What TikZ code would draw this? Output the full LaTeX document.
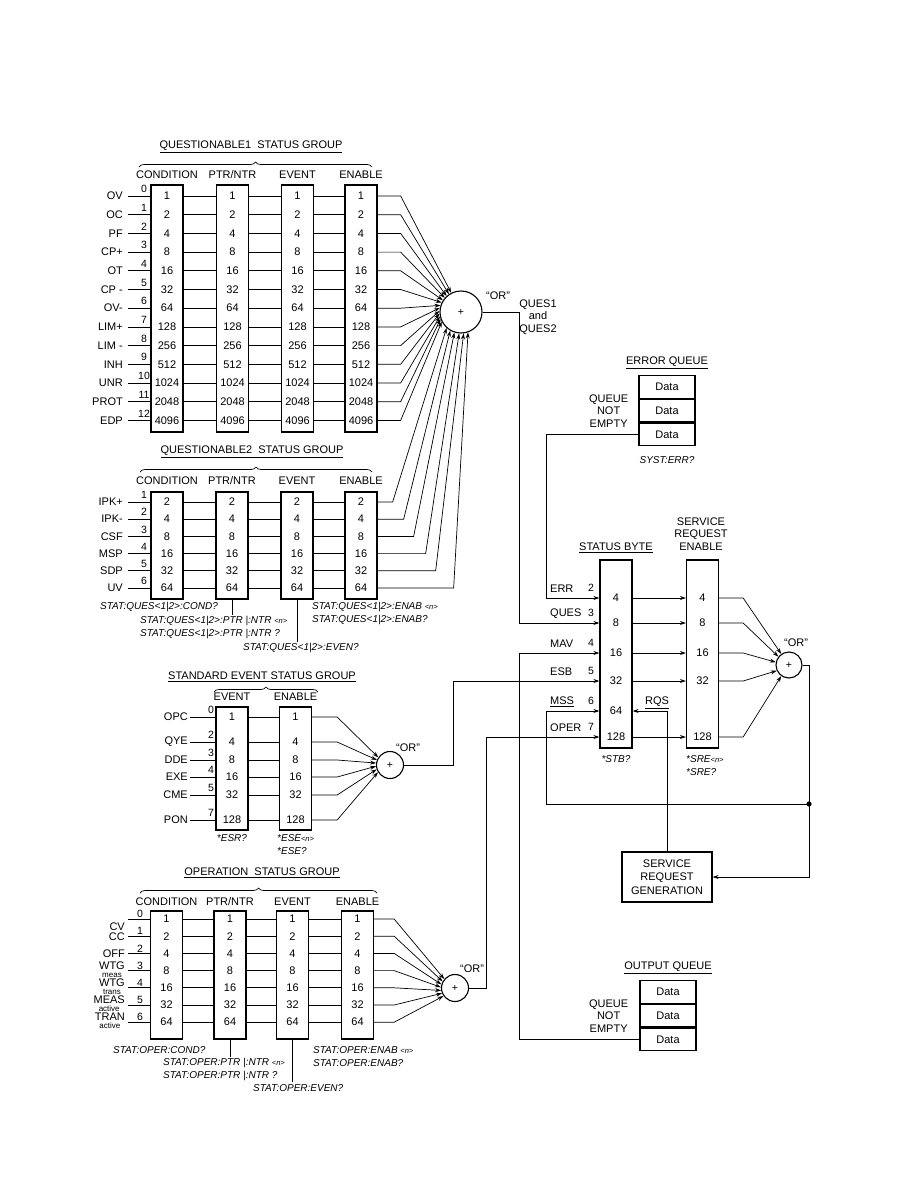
\documentclass[tikz,border=0pt]{standalone}
\usepackage{fontspec}
\setmainfont{Liberation Sans}
\usetikzlibrary{positioning,arrows.meta,decorations.pathreplacing}

% two-line input label (e.g. WTG / meas)
\newcommand{\stk}[2]{\begin{tabular}{@{}c@{}}#1\\[-4.5pt]{\fontsize{8}{8}\selectfont #2}\end{tabular}}
\newcommand{\argn}{{\fontsize{7.5}{8}\selectfont <n>}}

\tikzset{
  reg/.style={draw, line width=1.3pt, minimum width=32pt, inner sep=0pt},
  lbl/.style={font=\fontsize{11}{12.5}\selectfont, inner sep=0pt},
  bitno/.style={font=\fontsize{10.5}{12}\selectfont, inner sep=0pt},
  cmd/.style={font=\fontsize{10}{11}\selectfont\itshape, inner sep=0pt, anchor=west},
  grptitle/.style={font=\fontsize{11}{12}\selectfont, inner sep=0pt},
  orgate/.style={draw, circle, line width=1.1pt, inner sep=0pt, font=\fontsize{10.5}{12}\selectfont},
  qcell/.style={draw, line width=1.2pt, minimum width=56pt, minimum height=22.5pt,
                inner sep=0pt, font=\fontsize{11}{12}\selectfont},
  link/.style={line width=0.7pt},
  arr/.style={link, -{Stealth[length=6pt,width=4pt]}},
  grpbrace/.style={decorate, decoration={brace, amplitude=5pt}, line width=0.7pt},
}

\begin{document}
\begin{tikzpicture}[x=1pt, y=-1pt]
\useasboundingbox (0,0) rectangle (918,1188);

% ---------- QUESTIONABLE1 ----------
\node[grptitle] (q1t) at (251,147) {\underline{QUESTIONABLE1\ \ STATUS GROUP}};
\draw[grpbrace] (139,167) -- (372,167);
\node[reg, minimum height=247pt] (q1c) at (167,308.5) {};
\node[reg, minimum height=247pt] (q1p) at (232.5,308.5) {};
\node[reg, minimum height=247pt] (q1e) at (297.5,308.5) {};
\node[reg, minimum height=247pt] (q1n) at (361,308.5) {};
\foreach \b/\h in {q1c/CONDITION, q1p/{PTR/NTR}, q1e/EVENT, q1n/ENABLE}
  \node[lbl] at ([yshift=10pt]\b.north) {\h};
\node[orgate, minimum size=42pt] (q1or) at (461,312) {+};
\node[lbl] at (498,296) {``OR''};
\node[lbl, align=center] (q12) at (538,317) {QUES1\\and\\QUES2};

\foreach \lab/\v [count=\i from 0] in {OV/1, OC/2, PF/4, CP+/8, OT/16, CP -/32, OV-/64,
    LIM+/128, LIM -/256, INH/512, UNR/1024, PROT/2048, EDP/4096}{
  \pgfmathsetmacro{\y}{196+18.7*\i}
  \pgfmathsetmacro{\a}{117+7.5*\i}
  \coordinate (q1r\i) at (0,\y);
  \foreach \b in {q1c,q1p,q1e,q1n}
    \node[lbl] at (\b |- q1r\i) {\v};
  \node[lbl, anchor=east] (q1l\i) at (123,\y) {\lab};
  \node[bitno] at (144,\y-7) {\i};
  \draw[link] ([xshift=5pt]q1l\i.east) -- (q1c.west |- q1r\i);
  \draw[link] (q1c.east |- q1r\i) -- (q1p.west |- q1r\i);
  \draw[link] (q1p.east |- q1r\i) -- (q1e.west |- q1r\i);
  \draw[link] (q1e.east |- q1r\i) -- (q1n.west |- q1r\i);
  \draw[arr] (q1n.east |- q1r\i) -- ++(23,0) -- (q1or.\a);
}

% ---------- QUESTIONABLE2 ----------
\node[grptitle] (q2t) at (252,452) {\underline{QUESTIONABLE2\ \ STATUS GROUP}};
\draw[grpbrace] (140,472) -- (372,472);
\node[reg, minimum height=107pt] (q2c) at (167,545.5) {};
\node[reg, minimum height=107pt] (q2p) at (232,545.5) {};
\node[reg, minimum height=107pt] (q2e) at (297,545.5) {};
\node[reg, minimum height=107pt] (q2n) at (361,545.5) {};
\foreach \b/\h in {q2c/CONDITION, q2p/{PTR/NTR}, q2e/EVENT, q2n/ENABLE}
  \node[lbl] at ([yshift=11pt]\b.north) {\h};

\foreach \lab/\v/\dx [count=\i from 0] in {IPK+/2/15, IPK-/4/26, CSF/8/36, MSP/16/48,
    SDP/32/58, UV/64/76}{
  \pgfmathsetmacro{\y}{502+17.2*\i}
  \pgfmathsetmacro{\a}{228+12.4*\i}
  \pgfmathtruncatemacro{\bit}{\i+1}
  \coordinate (q2r\i) at (0,\y);
  \foreach \b in {q2c,q2p,q2e,q2n}
    \node[lbl] at (\b |- q2r\i) {\v};
  \node[lbl, anchor=east] (q2l\i) at (123,\y) {\lab};
  \node[bitno] at (144,\y-7) {\bit};
  \draw[link] ([xshift=5pt]q2l\i.east) -- (q2c.west |- q2r\i);
  \draw[link] (q2c.east |- q2r\i) -- (q2p.west |- q2r\i);
  \draw[link] (q2p.east |- q2r\i) -- (q2e.west |- q2r\i);
  \draw[link] (q2e.east |- q2r\i) -- (q2n.west |- q2r\i);
  \draw[arr] (q2n.east |- q2r\i) -- ++(\dx,0) -- (q1or.\a);
}
\node[cmd] (q2cc) at (100,607) {STAT:QUES<1|2>:COND?};
\coordinate (q2pe) at ([yshift=-15pt]q2p.south);
\draw[link] (q2p.south) -- (q2pe);
\node[cmd] at (140,621) {STAT:QUES<1|2>:PTR |:NTR \argn};
\node[cmd] at (140,634) {STAT:QUES<1|2>:PTR |:NTR ?};
\coordinate (q2ee) at ([yshift=-42pt]q2e.south);
\draw[link] (q2e.south) -- (q2ee);
\node[cmd] at (243,648) {STAT:QUES<1|2>:EVEN?};
\node[cmd] at (312,607) {STAT:QUES<1|2>:ENAB \argn};
\node[cmd] at (312,620) {STAT:QUES<1|2>:ENAB?};

% ---------- STANDARD EVENT ----------
\node[grptitle] (set) at (262,677) {\underline{STANDARD EVENT STATUS GROUP}};
\draw[grpbrace] (214,692) -- (318,692);
\node[reg, minimum height=123pt] (see) at (232,768.5) {};
\node[reg, minimum height=123pt] (sen) at (295.5,768.5) {};
\node[lbl] at ([yshift=10pt]see.north) {EVENT};
\node[lbl] at ([yshift=10pt]sen.north) {ENABLE};
\node[orgate, minimum size=27pt] (seor) at (390,765) {+};
\node[lbl] at (408,748) {``OR''};
\foreach \lab/\bit/\v/\y [count=\i from 0] in {OPC/0/1/717, QYE/2/4/742, DDE/3/8/760,
    EXE/4/16/777, CME/5/32/795, PON/7/128/820}{
  \pgfmathsetmacro{\a}{147+12.8*\i}
  \coordinate (ser\i) at (0,\y);
  \node[lbl] at (see |- ser\i) {\v};
  \node[lbl] at (sen |- ser\i) {\v};
  \node[lbl, anchor=east] (sel\i) at (188,\y) {\lab};
  \node[bitno] at (211,\y-7) {\bit};
  \draw[link] ([xshift=2pt]sel\i.east) -- (see.west |- ser\i);
  \draw[link] (see.east |- ser\i) -- (sen.west |- ser\i);
  \draw[arr] (sen.east |- ser\i) -- ++(25,0) -- (seor.\a);
}
\node[cmd, anchor=center] at (232,838) {*ESR?};
\node[cmd] at (277,838) {*ESE\argn};
\node[cmd] at (277,851) {*ESE?};

% ---------- OPERATION ----------
\node[grptitle] (opt) at (262,873) {\underline{OPERATION\ \ STATUS GROUP}};
\draw[grpbrace] (140,893) -- (377,893);
\node[reg, minimum height=128pt] (opc) at (166.5,975) {};
\node[reg, minimum height=128pt] (opp) at (230,975) {};
\node[reg, minimum height=128pt] (ope) at (292.5,975) {};
\node[reg, minimum height=128pt] (opn) at (357.5,975) {};
\foreach \b/\h in {opc/CONDITION, opp/{PTR/NTR}, ope/EVENT, opn/ENABLE}
  \node[lbl] at ([yshift=9pt]\b.north) {\h};
\node[orgate, minimum size=27pt] (opor) at (455,988) {+};
\node[lbl] at (472,969) {``OR''};
\foreach \lab/\v/\ly [count=\i from 0] in {CV/1/8, CC/2/1, OFF/4/0, {\stk{WTG}{meas}}/8/0,
    {\stk{WTG}{trans}}/16/0, {\stk{MEAS}{active}}/32/0, {\stk{TRAN}{active}}/64/0}{
  \pgfmathsetmacro{\y}{919+17.2*\i}
  \pgfmathsetmacro{\a}{140+12.5*\i}
  \coordinate (opr\i) at (0,\y);
  \foreach \b in {opc,opp,ope,opn}
    \node[lbl] at (\b |- opr\i) {\v};
  \node[lbl, anchor=east] (opl\i) at (125,\y+\ly) {\lab};
  \node[bitno] at (140,\y-5) {\i};
  \draw[link] (128,\y) -- (opc.west |- opr\i);
  \draw[link] (opc.east |- opr\i) -- (opp.west |- opr\i);
  \draw[link] (opp.east |- opr\i) -- (ope.west |- opr\i);
  \draw[link] (ope.east |- opr\i) -- (opn.west |- opr\i);
  \draw[arr] (opn.east |- opr\i) -- ++(20,0) -- (opor.\a);
}
\node[cmd] at (113,1050) {STAT:OPER:COND?};
\coordinate (oppe) at ([yshift=-17pt]opp.south);
\draw[link] (opp.south) -- (oppe);
\node[cmd] at (163,1063) {STAT:OPER:PTR |:NTR \argn};
\node[cmd] at (163,1076) {STAT:OPER:PTR |:NTR ?};
\coordinate (opee) at ([yshift=-42pt]ope.south);
\draw[link] (ope.south) -- (opee);
\node[cmd] at (253,1088) {STAT:OPER:EVEN?};
\node[cmd] at (313,1050) {STAT:OPER:ENAB \argn};
\node[cmd] at (313,1063) {STAT:OPER:ENAB?};

% ---------- ERROR QUEUE ----------
\node[qcell] (eq1) at (667,387) {Data};
\node[qcell, below=0pt of eq1] (eq2) {Data};
\node[qcell, below=0pt of eq2] (eq3) {Data};
\node[grptitle] at ([yshift=12pt]eq1.north) {\underline{ERROR QUEUE}};
\node[lbl, align=center, left=10pt of eq2] {QUEUE\\NOT\\EMPTY};
\node[cmd, anchor=center] at ([yshift=-14pt]eq3.south) {SYST:ERR?};

% ---------- OUTPUT QUEUE ----------
\node[qcell] (oq1) at (668,992) {Data};
\node[qcell, below=0pt of oq1] (oq2) {Data};
\node[qcell, below=0pt of oq2] (oq3) {Data};
\node[grptitle] at ([yshift=12pt]oq1.north) {\underline{OUTPUT QUEUE}};
\node[lbl, align=center, left=11pt of oq2] {QUEUE\\NOT\\EMPTY};

% ---------- STATUS BYTE / SRE ----------
\node[reg, minimum height=188pt] (sb) at (616,654) {};
\node[reg, minimum height=188pt] (sre) at (702.5,654) {};
\node[grptitle] at (616,548) {\underline{STATUS BYTE}};
\node[lbl, align=center] at (701,534) {SERVICE\\REQUEST\\ENABLE};
\node[cmd, anchor=center] at (616,759) {*STB?};
\node[cmd] at (686,759) {*SRE\argn};
\node[cmd] at (686,772) {*SRE?};
\node[orgate, minimum size=26pt] (sror) at (789,665) {+};
\node[lbl] at (796,643) {``OR''};

\foreach \lab/\bit/\v/\y [count=\i from 0] in {ERR/2/4/598, QUES/3/8/623, MAV/4/16/653,
    ESB/5/32/681, \underline{MSS}/6/64/711, OPER/7/128/737}{
  \coordinate (sbr\i) at (0,\y);
  \node[lbl] at (sb |- sbr\i) {\v};
  \node[lbl, anchor=west] at (550,\y-9) {\lab};
  \node[bitno] at (591,\y-10) {\bit};
}
\foreach \i/\v/\a in {0/4/125, 1/8/142, 2/16/168, 3/32/205, 5/128/235}{
  \node[lbl] at (sre |- sbr\i) {\v};
  \draw[arr] (sb.east |- sbr\i) -- (sre.west |- sbr\i);
  \draw[arr] (sre.east |- sbr\i) -- ++(24,0) -- (sror.\a);
}

% ---------- SERVICE REQUEST GENERATION ----------
\node[draw, line width=1.2pt, minimum width=90pt, minimum height=50pt, align=center,
      inner sep=0pt, font=\fontsize{11}{13.5}\selectfont] (srg) at (667,877)
  {SERVICE\\REQUEST\\GENERATION};
\node[lbl] (rqs) at (657,703) {\underline{RQS}};

% ---------- routing ----------
\coordinate (errx) at (546,0);
\coordinate (quesx) at (519,0);
\coordinate (esbx) at (453,0);
\coordinate (operx) at (486,0);
\coordinate (junc) at (809,804);

\draw[arr] (eq3.west) -| (errx |- sbr0) -- (sb.west |- sbr0);
\draw[arr] (q1or.east) -| (quesx |- sbr1) -- (sb.west |- sbr1);
\draw[arr] (oq3.west) -| (quesx |- sbr2) -- (sb.west |- sbr2);
\draw[arr] (seor.east) -| (esbx |- sbr3) -- (sb.west |- sbr3);
\draw[arr] (opor.east) -| (operx |- sbr5) -- (sb.west |- sbr5);
\draw[arr] (junc) -- (errx |- junc) -- (errx |- sbr4) -- (sb.west |- sbr4);
\draw[arr] (sror.east) -| (junc) |- (srg.east);
\fill (junc) circle (2.6pt);
\draw[arr] (srg.north) -- (srg.north |- sbr4) -- (sb.east |- sbr4);
\end{tikzpicture}
\end{document}
